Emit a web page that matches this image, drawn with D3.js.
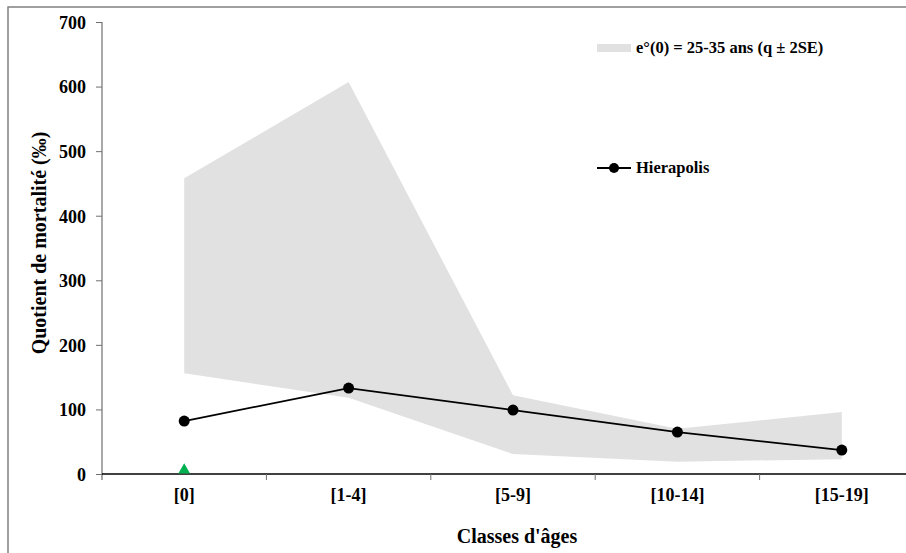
<!DOCTYPE html>
<html><head><meta charset="utf-8">
<script src="https://cdn.jsdelivr.net/npm/d3@7"></script>
</head><body style="margin:0">
<script>
const categories = ["[0]", "[1-4]", "[5-9]", "[10-14]", "[15-19]"];
const hierapolis = [82, 133, 99, 65, 37];
const bandUpper = [458, 607, 122, 70, 96];
const bandLower = [156, 118, 31, 19, 23];
const triangleValues = [0];
const yTicks = [0, 100, 200, 300, 400, 500, 600, 700];
const legendLabels = ["e°(0) = 25-35 ans (q ± 2SE)", "Hierapolis"];

const FONT = "Liberation Serif";
const W = 906, H = 553;
const svg = d3.select("body").append("svg").attr("width", W).attr("height", H);

function txt(sel, size) {
  return sel.attr("font-family", FONT).attr("font-size", size).attr("font-weight", "bold").attr("fill", "#000");
}

svg.append("rect").attr("x", 8).attr("y", 7).attr("width", 1000).attr("height", 700)
  .attr("fill", "#fff").attr("stroke", "#808080").attr("stroke-width", 1.5);

const x = d3.scaleBand().domain(categories).range([102, 924]).padding(0);
const y = d3.scaleLinear().domain([0, 700]).range([474, 22]);
const cx = c => x(c) + x.bandwidth() / 2;

// band
const bandData = categories.map((c, i) => ({c, lo: bandLower[i], hi: bandUpper[i]}));
svg.append("path").datum(bandData)
  .attr("d", d3.area().x(d => cx(d.c)).y0(d => y(d.lo)).y1(d => y(d.hi)))
  .attr("fill", "#e1e1e1");

// y axis
const yAxis = svg.append("g").attr("transform", "translate(102,0)")
  .call(d3.axisLeft(y).tickValues(yTicks).tickSize(6).tickPadding(10).tickFormat(d3.format("d")));
yAxis.select(".domain").attr("stroke", "#707070").attr("stroke-width", 1.2).attr("d", "M-6,22.5H0V480");
yAxis.selectAll(".tick line").attr("stroke", "#707070");
txt(yAxis.selectAll(".tick text"), 18).attr("dy", "0.35em");

// x axis
const xAxis = svg.append("g").attr("transform", "translate(0,474)");
xAxis.append("line").attr("x1", 102).attr("x2", 924).attr("y1", 0).attr("y2", 0)
  .attr("stroke", "#000").attr("stroke-width", 1.5);
xAxis.selectAll("line.tk").data(categories.slice(1)).enter().append("line")
  .attr("class", "tk").attr("x1", d => x(d)).attr("x2", d => x(d)).attr("y1", 0).attr("y2", 6)
  .attr("stroke", "#707070");
txt(xAxis.selectAll("text.lbl").data(categories).enter().append("text"), 18)
  .attr("x", d => cx(d)).attr("y", 27).attr("text-anchor", "middle").text(d => d);

// line
const lineData = categories.map((c, i) => ({c, v: hierapolis[i]}));
svg.append("path").datum(lineData)
  .attr("d", d3.line().x(d => cx(d.c)).y(d => y(d.v)))
  .attr("fill", "none").attr("stroke", "#000").attr("stroke-width", 1.8);
svg.selectAll("circle.pt").data(lineData).enter().append("circle")
  .attr("cx", d => cx(d.c)).attr("cy", d => y(d.v)).attr("r", 5.5).attr("fill", "#000");

// green triangle
svg.selectAll("path.tri").data(triangleValues).enter().append("path")
  .attr("d", d3.symbol().type(d3.symbolTriangle).size(60))
  .attr("transform", d => `translate(${cx(categories[0])},${y(d) - 4})`)
  .attr("fill", "#00b050");

// legend
svg.append("rect").attr("x", 597).attr("y", 44).attr("width", 34).attr("height", 8).attr("fill", "#e1e1e1");
txt(svg.append("text"), 16.5).attr("x", 636).attr("y", 53).text(legendLabels[0]);
svg.append("line").attr("x1", 597).attr("x2", 631).attr("y1", 168).attr("y2", 168).attr("stroke", "#000").attr("stroke-width", 1.8);
svg.append("circle").attr("cx", 614).attr("cy", 168).attr("r", 5).attr("fill", "#000");
txt(svg.append("text"), 16.5).attr("x", 636).attr("y", 173).text(legendLabels[1]);

// axis titles
txt(svg.append("text"), 20).attr("x", 517).attr("y", 543).attr("text-anchor", "middle").text("Classes d'âges");
txt(svg.append("text"), 20).attr("transform", "translate(46,243) rotate(-90)").attr("text-anchor", "middle")
  .text("Quotient de mortalité (‰)");
</script>
</body></html>
